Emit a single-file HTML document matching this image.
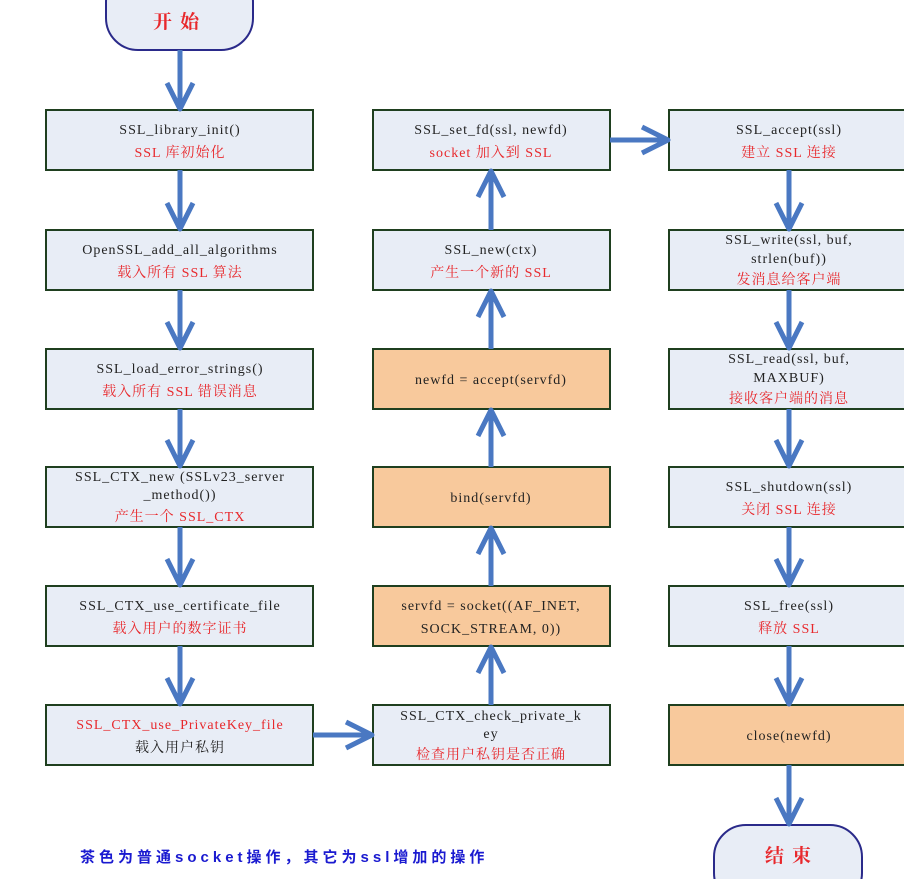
<!DOCTYPE html>
<html><head><meta charset="utf-8"><style>
html,body{margin:0;padding:0;background:#fff;width:904px;height:879px;overflow:hidden}
text{font-family:"Liberation Serif","Noto Serif CJK SC","Noto Sans CJK SC",serif;font-size:14px;text-anchor:middle;letter-spacing:1px}
.k{fill:#222}.r{fill:#e8282c}
</style></head><body>
<svg width="904" height="879" viewBox="0 0 904 879" xmlns="http://www.w3.org/2000/svg">
<defs>
<g id="hd"><polyline points="-13,-27 0,-1 13,-27" fill="none" stroke="#4a78c2" stroke-width="5" stroke-linejoin="round"/></g>
</defs>
<g fill="#e8edf6" stroke="#1f3f1f" stroke-width="2">
<rect x="46" y="110" width="267" height="60"/>
<rect x="46" y="230" width="267" height="60"/>
<rect x="46" y="349" width="267" height="60"/>
<rect x="46" y="467" width="267" height="60"/>
<rect x="46" y="586" width="267" height="60"/>
<rect x="46" y="705" width="267" height="60"/>
<rect x="373" y="110" width="237" height="60"/>
<rect x="373" y="230" width="237" height="60"/>
<rect x="373" y="705" width="237" height="60"/>
<rect x="669" y="110" width="240" height="60"/>
<rect x="669" y="230" width="240" height="60"/>
<rect x="669" y="349" width="240" height="60"/>
<rect x="669" y="467" width="240" height="60"/>
<rect x="669" y="586" width="240" height="60"/>
</g>
<g fill="#f8c99c" stroke="#1f3f1f" stroke-width="2">
<rect x="373" y="349" width="237" height="60"/>
<rect x="373" y="467" width="237" height="60"/>
<rect x="373" y="586" width="237" height="60"/>
<rect x="669" y="705" width="240" height="60"/>
</g>
<g fill="#e8edf6" stroke="#2a2a8a" stroke-width="2">
<rect x="106" y="-30" width="147" height="80" rx="32"/>
<rect x="714" y="825" width="148" height="80" rx="32"/>
</g>
<text x="180" y="28" style="font-size:19px;font-weight:bold;letter-spacing:8px" class="r">开始</text>
<text x="792" y="862" style="font-size:19px;font-weight:bold;letter-spacing:8px" class="r">结束</text>
<g stroke="#4a78c2" stroke-width="5">
<line x1="180" y1="50" x2="180" y2="108"/>
<line x1="180" y1="170" x2="180" y2="228"/>
<line x1="180" y1="290" x2="180" y2="347"/>
<line x1="180" y1="409" x2="180" y2="465"/>
<line x1="180" y1="527" x2="180" y2="584"/>
<line x1="180" y1="646" x2="180" y2="703"/>
<line x1="313" y1="735" x2="371" y2="735"/>
<line x1="491" y1="705" x2="491" y2="648"/>
<line x1="491" y1="586" x2="491" y2="529"/>
<line x1="491" y1="467" x2="491" y2="411"/>
<line x1="491" y1="349" x2="491" y2="292"/>
<line x1="491" y1="230" x2="491" y2="172"/>
<line x1="610" y1="140" x2="667" y2="140"/>
<line x1="789" y1="170" x2="789" y2="228"/>
<line x1="789" y1="290" x2="789" y2="347"/>
<line x1="789" y1="409" x2="789" y2="465"/>
<line x1="789" y1="527" x2="789" y2="584"/>
<line x1="789" y1="646" x2="789" y2="703"/>
<line x1="789" y1="765" x2="789" y2="823"/>
</g>
<use href="#hd" transform="translate(180,110)"/>
<use href="#hd" transform="translate(180,230)"/>
<use href="#hd" transform="translate(180,349)"/>
<use href="#hd" transform="translate(180,467)"/>
<use href="#hd" transform="translate(180,586)"/>
<use href="#hd" transform="translate(180,705)"/>
<use href="#hd" transform="translate(373,735) rotate(-90)"/>
<use href="#hd" transform="translate(491,646) rotate(180)"/>
<use href="#hd" transform="translate(491,527) rotate(180)"/>
<use href="#hd" transform="translate(491,409) rotate(180)"/>
<use href="#hd" transform="translate(491,290) rotate(180)"/>
<use href="#hd" transform="translate(491,170) rotate(180)"/>
<use href="#hd" transform="translate(669,140) rotate(-90)"/>
<use href="#hd" transform="translate(789,230)"/>
<use href="#hd" transform="translate(789,349)"/>
<use href="#hd" transform="translate(789,467)"/>
<use href="#hd" transform="translate(789,586)"/>
<use href="#hd" transform="translate(789,705)"/>
<use href="#hd" transform="translate(789,825)"/>

<text x="180" y="134" class="k">SSL_library_init()</text>
<text x="180" y="157" class="r">SSL 库初始化</text>
<text x="180" y="254" class="k">OpenSSL_add_all_algorithms</text>
<text x="180" y="277" class="r">载入所有 SSL 算法</text>
<text x="180" y="373" class="k">SSL_load_error_strings()</text>
<text x="180" y="396" class="r">载入所有 SSL 错误消息</text>
<text x="180" y="481" class="k">SSL_CTX_new (SSLv23_server</text>
<text x="180" y="499" class="k">_method())</text>
<text x="180" y="521" class="r">产生一个 SSL_CTX</text>
<text x="180" y="610" class="k">SSL_CTX_use_certificate_file</text>
<text x="180" y="633" class="r">载入用户的数字证书</text>
<text x="180" y="729" class="r">SSL_CTX_use_PrivateKey_file</text>
<text x="180" y="752" class="k">载入用户私钥</text>

<text x="491" y="134" class="k">SSL_set_fd(ssl, newfd)</text>
<text x="491" y="157" class="r">socket 加入到 SSL</text>
<text x="491" y="254" class="k">SSL_new(ctx)</text>
<text x="491" y="277" class="r">产生一个新的 SSL</text>
<text x="491" y="384" class="k">newfd = accept(servfd)</text>
<text x="491" y="502" class="k">bind(servfd)</text>
<text x="491" y="610" class="k">servfd = socket((AF_INET,</text>
<text x="491" y="633" class="k">SOCK_STREAM, 0))</text>
<text x="491" y="720" class="k">SSL_CTX_check_private_k</text>
<text x="491" y="738" class="k">ey</text>
<text x="491" y="759" class="r">检查用户私钥是否正确</text>

<text x="789" y="134" class="k">SSL_accept(ssl)</text>
<text x="789" y="157" class="r">建立 SSL 连接</text>
<text x="789" y="244" class="k">SSL_write(ssl, buf,</text>
<text x="789" y="263" class="k">strlen(buf))</text>
<text x="789" y="284" class="r">发消息给客户端</text>
<text x="789" y="363" class="k">SSL_read(ssl, buf,</text>
<text x="789" y="382" class="k">MAXBUF)</text>
<text x="789" y="403" class="r">接收客户端的消息</text>
<text x="789" y="491" class="k">SSL_shutdown(ssl)</text>
<text x="789" y="514" class="r">关闭 SSL 连接</text>
<text x="789" y="610" class="k">SSL_free(ssl)</text>
<text x="789" y="633" class="r">释放 SSL</text>
<text x="789" y="740" class="k">close(newfd)</text>

<text x="80" y="862" style="text-anchor:start;fill:#1a1ad0;font-weight:bold;font-size:15px;letter-spacing:4px;font-family:'Liberation Sans','Noto Sans CJK SC',sans-serif">茶色为普通socket操作，其它为ssl增加的操作</text>
</svg>
</body></html>
